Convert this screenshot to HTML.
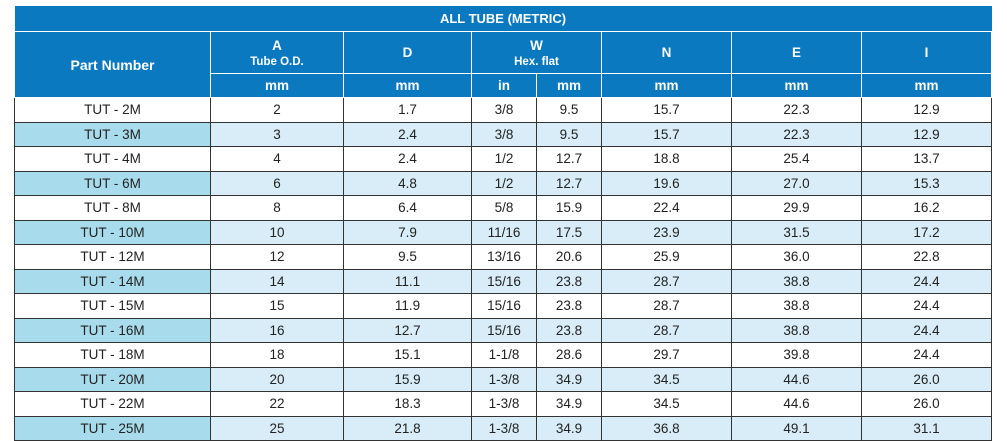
<!DOCTYPE html>
<html><head><meta charset="utf-8"><style>
body{margin:0;background:#fff;width:1007px;height:437px;overflow:hidden;font-family:"Liberation Sans",sans-serif;}
table{position:absolute;left:14px;top:6px;border-collapse:collapse;table-layout:fixed;width:977px;}
td,th{text-align:center;padding:0;font-size:13.5px;color:#222;}
th{background:#0a79bf;color:#fff;font-weight:bold;border:1px solid #fff;}
.t th{border-top:none;border-left:none;border-right:none;height:25px;font-size:13px;}
td{border:1px solid #333;height:23.5px;}
tr.s td{background:#d8edf7;}
tr.s td.p{background:#a8dcec;}
.sub{font-size:11.5px;}
</style></head><body>
<table>
<colgroup><col style="width:196px"><col style="width:133px"><col style="width:128px"><col style="width:65px"><col style="width:65px"><col style="width:130px"><col style="width:130px"><col style="width:130px"></colgroup>
<tr class="t"><th colspan="8">ALL TUBE (METRIC)</th></tr>
<tr style="height:42px"><th rowspan="2" style="font-size:14px">Part Number</th><th>A<br><span class="sub">Tube O.D.</span></th><th>D</th><th colspan="2">W<br><span class="sub">Hex. flat</span></th><th>N</th><th>E</th><th>I</th></tr>
<tr style="height:24px"><th>mm</th><th>mm</th><th>in</th><th>mm</th><th>mm</th><th>mm</th><th>mm</th></tr>
<tbody id="b"></tbody>
</table>
<script>
const parts=["TUT - 2M","TUT - 3M","TUT - 4M","TUT - 6M","TUT - 8M","TUT - 10M","TUT - 12M","TUT - 14M","TUT - 15M","TUT - 16M","TUT - 18M","TUT - 20M","TUT - 22M","TUT - 25M"];
const colA=["2","3","4","6","8","10","12","14","15","16","18","20","22","25"];
const colD=["1.7","2.4","2.4","4.8","6.4","7.9","9.5","11.1","11.9","12.7","15.1","15.9","18.3","21.8"];
const colWin=["3/8","3/8","1/2","1/2","5/8","11/16","13/16","15/16","15/16","15/16","1-1/8","1-3/8","1-3/8","1-3/8"];
const colWmm=["9.5","9.5","12.7","12.7","15.9","17.5","20.6","23.8","23.8","23.8","28.6","34.9","34.9","34.9"];
const colN=["15.7","15.7","18.8","19.6","22.4","23.9","25.9","28.7","28.7","28.7","29.7","34.5","34.5","36.8"];
const colE=["22.3","22.3","25.4","27.0","29.9","31.5","36.0","38.8","38.8","38.8","39.8","44.6","44.6","49.1"];
const colI=["12.9","12.9","13.7","15.3","16.2","17.2","22.8","24.4","24.4","24.4","24.4","26.0","26.0","31.1"];
const b=document.getElementById('b');
const cols=[colA,colD,colWin,colWmm,colN,colE,colI];
const names=['a','d','w-in','w-mm','n','e','i'];
parts.forEach((p,i)=>{
  const tr=document.createElement('tr');
  
  
  if(i%2)tr.className='s';
  const td=document.createElement('td');
  td.className='p';td.textContent=p;
  
  
  tr.appendChild(td);
  cols.forEach((c,j)=>{
    const d=document.createElement('td');
    d.textContent=c[i];
    
    
    tr.appendChild(d);
  });
  b.appendChild(tr);
});
</script>
</body></html>
